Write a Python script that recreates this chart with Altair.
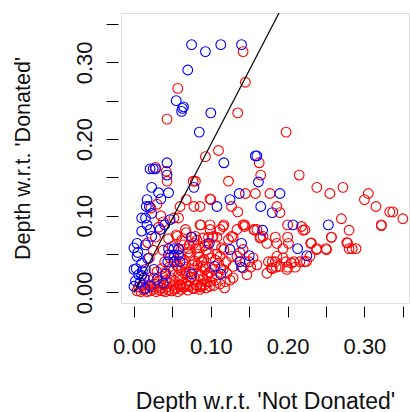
import altair as alt
import pandas as pd

# Red class points (depth w.r.t. 'Not Donated', depth w.r.t. 'Donated')
red_x = [0.142, 0.145, 0.057, 0.135, 0.043, 0.198, 0.110, 0.093, 0.163, 0.165, 0.215, 0.123, 0.077, 0.080,
         0.238, 0.272, 0.255, 0.305, 0.300, 0.315, 0.333, 0.337, 0.350, 0.322, 0.270, 0.280, 0.257, 0.277,
         0.280, 0.284, 0.289, 0.250, 0.238, 0.230, 0.220, 0.200, 0.200, 0.184, 0.190, 0.186, 0.177, 0.158,
         0.145, 0.135, 0.127, 0.100, 0.086, 0.078, 0.068, 0.043, 0.042, 0.028, 0.142, 0.144, 0.117, 0.087,
         0.157, 0.165, 0.129, 0.097, 0.102, 0.108, 0.201, 0.194, 0.186, 0.208, 0.198, 0.200, 0.210, 0.222,
         0.185, 0.175, 0.180, 0.173, 0.180, 0.150, 0.145, 0.152, 0.125, 0.121, 0.113,
         0.099, 0.116, 0.144, 0.156, 0.164, 0.218, 0.090, 0.103, 0.106, 0.114, 0.112, 0.127, 0.129, 0.142,
         0.147, 0.129, 0.119, 0.108, 0.099, 0.095, 0.090, 0.088, 0.099, 0.179, 0.190, 0.199, 0.205, 0.184,
         0.160, 0.155, 0.142, 0.123, 0.173, 0.216, 0.186, 0.194,
         0.052, 0.058, 0.060, 0.067, 0.056, 0.080, 0.086, 0.099, 0.112, 0.127, 0.134, 0.160, 0.168, 0.099,
         0.2225, 0.231, 0.2376, 0.2506, 0.257, 0.278, 0.322, 0.2246, 0.229,
         0.004, 0.009, 0.013, 0.017, 0.021, 0.025, 0.029, 0.033, 0.037, 0.041, 0.045, 0.049, 0.053, 0.057,
         0.006, 0.011, 0.015, 0.019, 0.023, 0.027, 0.031, 0.035, 0.039, 0.043, 0.047, 0.051, 0.055, 0.060,
         0.064, 0.068, 0.072, 0.077, 0.082, 0.087, 0.092,
         0.020, 0.026, 0.032, 0.037, 0.042, 0.048, 0.053, 0.058, 0.062, 0.066, 0.071, 0.075, 0.080, 0.085,
         0.090, 0.095, 0.101, 0.106,
         0.030, 0.036, 0.041, 0.046, 0.051, 0.056, 0.061, 0.067, 0.072, 0.078, 0.083, 0.088, 0.093, 0.098,
         0.040, 0.047, 0.054, 0.060, 0.066, 0.073, 0.079, 0.085, 0.091, 0.097,
         0.038, 0.050, 0.058, 0.065, 0.071, 0.078, 0.085, 0.092,
         0.045, 0.055, 0.062, 0.068, 0.075, 0.082,
         0.015, 0.020, 0.025, 0.018, 0.028, 0.032, 0.035, 0.038, 0.022, 0.030,
         0.062, 0.070, 0.078, 0.086, 0.094, 0.104, 0.112, 0.118, 0.060, 0.069, 0.086,
         0.064, 0.070, 0.076, 0.083, 0.088, 0.094, 0.100, 0.104, 0.110, 0.116, 0.120, 0.068, 0.058, 0.052,
         0.072, 0.081, 0.096, 0.108, 0.117, 0.134, 0.138, 0.092, 0.074, 0.106]
red_y = [0.314, 0.274, 0.266, 0.234, 0.226, 0.209, 0.185, 0.177, 0.169, 0.153, 0.153, 0.145, 0.145, 0.145,
         0.137, 0.137, 0.129, 0.129, 0.121, 0.112, 0.105, 0.105, 0.096, 0.088, 0.096, 0.081, 0.072, 0.065,
         0.057, 0.057, 0.057, 0.057, 0.057, 0.064, 0.081, 0.088, 0.072, 0.072, 0.104, 0.112, 0.129, 0.129,
         0.129, 0.105, 0.112, 0.121, 0.112, 0.112, 0.121, 0.145, 0.158, 0.163, 0.088, 0.088, 0.088, 0.088,
         0.081, 0.072, 0.072, 0.072, 0.072, 0.072, 0.064, 0.057, 0.064, 0.040, 0.040, 0.033, 0.033, 0.040,
         0.033, 0.040, 0.040, 0.025, 0.031, 0.040, 0.040, 0.033, 0.016, 0.025, 0.031,
         0.082, 0.086, 0.086, 0.082, 0.071, 0.086, 0.071, 0.073, 0.062, 0.058, 0.047, 0.047, 0.034, 0.032,
         0.023, 0.019, 0.014, 0.023, 0.014, 0.023, 0.034, 0.010, 0.008, 0.032, 0.034, 0.030, 0.038, 0.040,
         0.036, 0.045, 0.056, 0.069, 0.064, 0.040, 0.047, 0.045,
         0.097, 0.097, 0.112, 0.082, 0.073, 0.073, 0.088, 0.088, 0.082, 0.073, 0.082, 0.082, 0.073, 0.122,
         0.0817, 0.0644, 0.0557, 0.0557, 0.0718, 0.0644, 0.087, 0.0404, 0.047,
         0.002, 0.001, 0.003, 0.001, 0.002, 0.004, 0.001, 0.003, 0.002, 0.001, 0.003, 0.002, 0.004, 0.001,
         0.007, 0.009, 0.006, 0.010, 0.007, 0.011, 0.008, 0.006, 0.010, 0.007, 0.012, 0.009, 0.006, 0.010,
         0.007, 0.011, 0.008, 0.006, 0.009, 0.007, 0.010,
         0.016, 0.019, 0.014, 0.021, 0.016, 0.019, 0.015, 0.022, 0.017, 0.024, 0.015, 0.020, 0.016, 0.022,
         0.018, 0.014, 0.021, 0.016,
         0.027, 0.031, 0.026, 0.033, 0.028, 0.035, 0.029, 0.033, 0.027, 0.031, 0.036, 0.028, 0.033, 0.026,
         0.040, 0.045, 0.041, 0.047, 0.042, 0.048, 0.041, 0.046, 0.043, 0.050,
         0.055, 0.060, 0.056, 0.062, 0.057, 0.064, 0.058, 0.061,
         0.070, 0.075, 0.068, 0.078, 0.072, 0.068,
         0.030, 0.045, 0.055, 0.065, 0.072, 0.085, 0.100, 0.092, 0.110, 0.115,
         0.004, 0.003, 0.005, 0.004, 0.006, 0.009, 0.011, 0.006, 0.008, 0.008, 0.008,
         0.038, 0.052, 0.036, 0.050, 0.040, 0.055, 0.045, 0.030, 0.038, 0.030, 0.040, 0.025, 0.032, 0.045,
         0.062, 0.058, 0.064, 0.050, 0.056, 0.047, 0.052, 0.030, 0.020, 0.042]

# Blue class points
blue_x = [0.075, 0.093, 0.113, 0.140, 0.070, 0.055, 0.063, 0.062, 0.0645, 0.100, 0.085, 0.158, 0.160, 0.117,
          0.043, 0.162, 0.078, 0.137, 0.190, 0.125, 0.108, 0.165, 0.180, 0.207, 0.253, 0.1675, 0.075, 0.098,
          0.140, 0.125, 0.150, 0.138, 0.140, 0.213, 0.225, 0.105, 0.113, 0.075,
          0.021, 0.025, 0.028, 0.043, 0.023, 0.032, 0.035, 0.045, 0.017, 0.016, 0.020, 0.023, 0.010, 0.015,
          0.017, 0.010, 0.021, 0.034, 0.040, 0.047, 0.023, 0.004, 0.000, 0.015, 0.004, 0.010, 0.045, 0.052,
          0.058, 0.045, 0.052, 0.058, 0.052, 0.060, 0.044, 0.000, 0.006, 0.000, 0.021, 0.030, 0.038, 0.041,
          0.010, 0.014, 0.026, 0.003, 0.011, 0.002, 0.008, 0.013, 0.005, 0.018]
blue_y = [0.323, 0.314, 0.323, 0.323, 0.290, 0.250, 0.240, 0.236, 0.242, 0.234, 0.209, 0.178, 0.178, 0.169,
          0.169, 0.144, 0.137, 0.129, 0.129, 0.121, 0.112, 0.112, 0.104, 0.088, 0.088, 0.081, 0.072, 0.064,
          0.064, 0.056, 0.048, 0.040, 0.033, 0.057, 0.048, 0.034, 0.024, 0.024,
          0.161, 0.161, 0.161, 0.153, 0.137, 0.130, 0.122, 0.130, 0.121, 0.112, 0.112, 0.103, 0.097, 0.097,
          0.088, 0.080, 0.082, 0.082, 0.088, 0.095, 0.073, 0.064, 0.058, 0.062, 0.047, 0.038, 0.057, 0.057,
          0.057, 0.049, 0.049, 0.049, 0.040, 0.040, 0.040, 0.030, 0.023, 0.008, 0.008, 0.017, 0.012, 0.024,
          0.022, 0.005, 0.030, 0.031, 0.028, 0.015, 0.013, 0.019, 0.052, 0.044]

# Separating line through the origin
line_x = [0.0, 0.2]
line_y = [0.0, 0.386]

red_df = pd.DataFrame({"x": red_x, "y": red_y})
blue_df = pd.DataFrame({"x": blue_x, "y": blue_y})
line_df = pd.DataFrame({"x": line_x, "y": line_y})

tick_vals = [0.0, 0.05, 0.10, 0.15, 0.20, 0.25, 0.30, 0.35]
label_expr = "round(datum.value * 20) % 2 == 0 ? format(datum.value, '.2f') : ''"
FONT = "Liberation Sans"

xscale = alt.Scale(domain=[-0.0169, 0.358], nice=False, zero=False)
yscale = alt.Scale(domain=[-0.0138, 0.3643], nice=False, zero=False)

xaxis = alt.Axis(values=tick_vals, labelExpr=label_expr, domain=False, grid=False,
                 tickSize=11, tickColor="black", tickWidth=1, offset=3,
                 labelFont=FONT, labelFontSize=22, labelColor="#111111", labelPadding=19,
                 labelFlush=False, labelOverlap=False,
                 title="Depth w.r.t. 'Not Donated'", titleFont=FONT, titleFontSize=23,
                 titleFontWeight="normal", titleColor="#111111",
                 titleX=144, titleY=102, titleBaseline="alphabetic", titleAlign="center")
yaxis = alt.Axis(values=tick_vals, labelExpr=label_expr, domain=False, grid=False,
                 tickSize=12, tickColor="black", tickWidth=1, offset=3,
                 labelFont=FONT, labelFontSize=22, labelColor="#111111", labelPadding=15,
                 labelAngle=270, labelAlign="center", labelBaseline="alphabetic",
                 labelFlush=False, labelOverlap=False,
                 title="Depth w.r.t. 'Donated'", titleFont=FONT, titleFontSize=21.5,
                 titleFontWeight="normal", titleColor="#111111", titleAngle=270,
                 titleX=-89, titleY=145, titleBaseline="alphabetic", titleAlign="center")

red = alt.Chart(red_df).mark_point(shape="circle", filled=False, size=95, strokeWidth=1.1,
                                     color="#FF0000", opacity=1).encode(
    x=alt.X("x:Q", scale=xscale, axis=xaxis),
    y=alt.Y("y:Q", scale=yscale, axis=yaxis),
)
blue = alt.Chart(blue_df).mark_point(shape="circle", filled=False, size=95, strokeWidth=1.1,
                                       color="#0000FF", opacity=1).encode(
    x=alt.X("x:Q", scale=xscale),
    y=alt.Y("y:Q", scale=yscale),
)
line = alt.Chart(line_df).mark_line(color="black", strokeWidth=1.2, clip=True).encode(
    x=alt.X("x:Q", scale=xscale),
    y=alt.Y("y:Q", scale=yscale),
)

chart = alt.layer(red, blue, line).properties(
    width=288, height=290,
    padding={"left": 121, "top": 13, "right": 1, "bottom": 109},
    autosize=alt.AutoSizeParams(type="none"),
).configure_view(stroke="black", strokeWidth=1.2).configure(background="white")

chart.save("out.html", embed_options={"renderer": "svg", "actions": False})
